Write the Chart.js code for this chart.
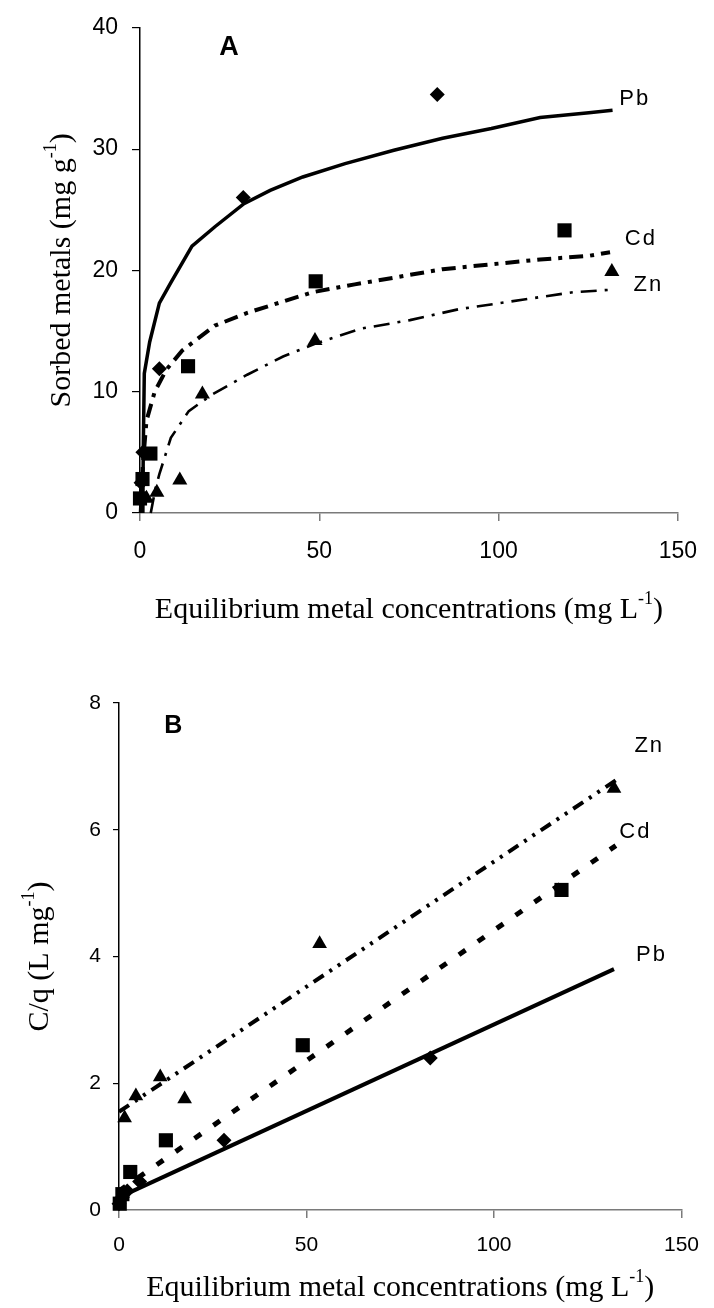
<!DOCTYPE html>
<html>
<head>
<meta charset="utf-8">
<script src="https://cdn.jsdelivr.net/npm/chart.js@4/dist/chart.umd.min.js"></script>
<style>
  html, body { margin: 0; padding: 0; background: #fff; }
  #wrap { position: relative; width: 714px; height: 1308px; }
  .box { position: absolute; left: 0; width: 714px; height: 654px; }
</style>
</head>
<body>
<div id="wrap">
  <div class="box" style="top:0"><canvas id="chartA" width="714" height="654"></canvas></div>
  <div class="box" style="top:654px"><canvas id="chartB" width="714" height="654"></canvas></div>
</div>
<script>
// --- Panel A: sorption isotherms (observed points + fitted curves) ---
const pbObsA = [[0.3, 2.5], [0.8, 5.0], [5.4, 11.9], [28.8, 26.0], [82.9, 34.5]];
const cdObsA = [[0, 1.2], [0.7, 2.8], [2.9, 4.9], [13.4, 12.1], [49.0, 19.1], [118.4, 23.3]];
const znObsA = [[1.8, 1.2], [4.7, 1.7], [11.1, 2.7], [17.4, 9.8], [48.8, 14.2], [131.6, 19.9]];

const pbFitA = [[0.8, 0], [0.9, 5], [1.2, 11.5], [2.7, 14.1], [5.4, 17.3], [8.6, 19.0], [14.5, 22.0],
  [20.9, 23.6], [29.0, 25.5], [36.3, 26.6], [45.4, 27.7], [57.2, 28.8], [70.8, 29.9], [84.4, 30.9],
  [98.0, 31.7], [111.6, 32.6], [125.2, 33.0], [131.8, 33.2]];
const cdFitA = [[0.2, 0], [0.8, 4.0], [1.8, 7.6], [4.1, 10.0], [7.3, 11.8], [11.8, 13.4], [20.9, 15.45],
  [29.9, 16.5], [48.1, 18.2], [59.9, 18.85], [70.8, 19.4], [84.4, 20.1], [98.0, 20.5], [111.6, 20.9],
  [125.2, 21.2], [131.1, 21.5]];
const znFitA = [[3.0, 0], [4.3, 2.0], [5.4, 3.2], [8.6, 6.2], [13.6, 8.4], [20.0, 9.75], [29.9, 11.4],
  [39.9, 12.9], [48.8, 13.95], [61.7, 15.2], [75.3, 15.9], [88.9, 16.8], [107.1, 17.6], [120.7, 18.2],
  [131.1, 18.4]];

// --- Panel B: linearised form C/q vs C ---
const pbObsB = [[0, 0.1], [0.9, 0.2], [2.2, 0.3], [5.5, 0.45], [28, 1.1], [83, 2.4]];
const cdObsB = [[0.2, 0.1], [0.9, 0.25], [3, 0.6], [12.5, 1.1], [49, 2.6], [118, 5.05]];
const znObsB = [[1.5, 1.45], [4.5, 1.8], [11, 2.1], [17.5, 1.75], [53.5, 4.2], [132, 6.65]];

const pbFitB = [[0, 0.2], [132, 3.8]];
const cdFitB = [[0, 0.3], [132.5, 5.75]];
const znFitB = [[0, 1.55], [133, 6.8]];

// axes
const xRange = [0, 150];
const yRangeA = [0, 40];
const yRangeB = [0, 8];

// labels (positions in data units)
const seriesLabelsA = [['Pb', 138, 34.1], ['Cd', 139.7, 22.6], ['Zn', 141.8, 18.8]];
const seriesLabelsB = [['Zn', 141.4, 7.33], ['Cd', 137.7, 5.97], ['Pb', 142, 4.03]];

const toXY = arr => arr.map(p => ({ x: p[0], y: p[1] }));

function lineSet(data, width, dash) {
  return {
    data: toXY(data), showLine: true, pointRadius: 0, borderColor: '#000',
    borderWidth: width, borderDash: dash, tension: 0, clip: false, order: 2
  };
}
function pointSet(data, style, r) {
  return {
    data: toXY(data), showLine: false, pointStyle: style, pointRadius: r,
    backgroundColor: '#000', borderColor: '#000', borderWidth: 0, clip: false, order: 1
  };
}

// draw a text made of normal + superscript pieces, centred on (x, y)
function drawRich(ctx, parts, x, y, rot) {
  const big = '30px "Liberation Serif", "Times New Roman", serif';
  const small = '18px "Liberation Serif", "Times New Roman", serif';
  let total = 0;
  parts.forEach(p => { ctx.font = p[1] ? small : big; total += ctx.measureText(p[0]).width; });
  ctx.save();
  ctx.translate(x, y);
  ctx.rotate(rot);
  ctx.textAlign = 'left';
  ctx.textBaseline = 'middle';
  let cx = -total / 2;
  parts.forEach(p => {
    ctx.font = p[1] ? small : big;
    ctx.fillText(p[0], cx, p[1] ? -11 : 0);
    cx += ctx.measureText(p[0]).width;
  });
  ctx.restore();
}

const textPlugin = {
  id: 'texts',
  afterDraw(chart, args, o) {
    const ctx = chart.ctx, xs = chart.scales.x, ys = chart.scales.y, ca = chart.chartArea;
    ctx.save();
    ctx.fillStyle = '#000';
    ctx.textAlign = 'center';
    ctx.textBaseline = 'middle';
    ctx.font = 'bold ' + o.letterSize + 'px "Liberation Sans", Arial, sans-serif';
    ctx.fillText(o.letter, xs.getPixelForValue(o.letterPos[0]), ys.getPixelForValue(o.letterPos[1]));
    ctx.font = '22px "Liberation Sans", Arial, sans-serif';
    if ('letterSpacing' in ctx) ctx.letterSpacing = '2px';
    o.labels.forEach(l => ctx.fillText(l[0], xs.getPixelForValue(l[1]), ys.getPixelForValue(l[2])));
    if ('letterSpacing' in ctx) ctx.letterSpacing = '0px';
    drawRich(ctx, o.xTitle, (ca.left + ca.right) / 2, o.xTitleY, 0);
    drawRich(ctx, o.yTitle, o.yTitleX, (ca.top + ca.bottom) / 2, -Math.PI / 2);
    ctx.restore();
  }
};

function makeChart(id, datasets, yRange, yStep, cfg) {
  return new Chart(document.getElementById(id), {
    type: 'scatter',
    data: { datasets: datasets },
    plugins: [textPlugin],
    options: {
      responsive: false,
      animation: false,
      events: [],
      layout: { padding: { left: 0, right: cfg.padRight, top: cfg.padTop, bottom: 0 } },
      plugins: {
        legend: { display: false },
        tooltip: { enabled: false },
        texts: cfg.texts
      },
      scales: {
        x: {
          type: 'linear', min: xRange[0], max: xRange[1],
          afterFit: s => { s.height = cfg.xHeight; },
          border: { display: true, color: '#7a7a7a', width: 1.5 },
          grid: { drawOnChartArea: false, drawTicks: true, tickLength: 8, color: '#7a7a7a', lineWidth: 1.5 },
          ticks: {
            stepSize: 50, padding: cfg.xPad, color: '#000',
            font: { family: '"Liberation Sans", Arial, sans-serif', size: cfg.tickSize }
          }
        },
        y: {
          type: 'linear', min: yRange[0], max: yRange[1],
          afterFit: s => { s.width = cfg.yWidth; },
          border: { display: true, color: '#000', width: 1.5 },
          grid: { drawOnChartArea: false, drawTicks: true, tickLength: cfg.yTick, color: '#000', lineWidth: 1.2 },
          ticks: {
            stepSize: yStep, padding: cfg.yPad, color: '#000',
            font: { family: '"Liberation Sans", Arial, sans-serif', size: cfg.tickSize }
          }
        }
      }
    }
  });
}

const xTitle = [['Equilibrium metal concentrations (mg L', false], ['-1', true], [')', false]];

makeChart('chartA', [
  lineSet(pbFitA, 3.5, []),
  lineSet(cdFitA, 4, [14, 7, 4, 7]),
  lineSet(znFitA, 2.6, [16, 8, 3, 8]),
  pointSet(pbObsA, 'rectRot', 7.5),
  pointSet(cdObsA, 'rect', 10),
  pointSet(znObsA, 'triangle', 8.7)
], yRangeA, 10, {
  padRight: 23, padTop: 22, xHeight: 141, yWidth: 140, xPad: 17, yPad: 14, yTick: 8, tickSize: 23,
  texts: {
    letter: 'A', letterSize: 27, letterPos: [24.8, 38.4], labels: seriesLabelsA,
    xTitle: xTitle, xTitleY: 610,
    yTitle: [['Sorbed metals (mg g', false], ['-1', true], [')', false]], yTitleX: 62
  }
});

makeChart('chartB', [
  lineSet(pbFitB, 4, []),
  lineSet(cdFitB, 5, [8, 15]),
  lineSet(znFitB, 4, [12, 7, 3, 7, 3, 7]),
  pointSet(pbObsB, 'rectRot', 7.5),
  pointSet(cdObsB, 'rect', 10),
  pointSet(znObsB, 'triangle', 8.5)
], yRangeB, 2, {
  padRight: 21, padTop: 49, xHeight: 98, yWidth: 119, xPad: 15, yPad: 12, yTick: 6, tickSize: 21,
  texts: {
    letter: 'B', letterSize: 25, letterPos: [14.5, 7.63], labels: seriesLabelsB,
    xTitle: xTitle, xTitleY: 634,
    yTitle: [['C/q (L mg', false], ['-1', true], [')', false]], yTitleX: 40
  }
});
</script>
</body>
</html>
